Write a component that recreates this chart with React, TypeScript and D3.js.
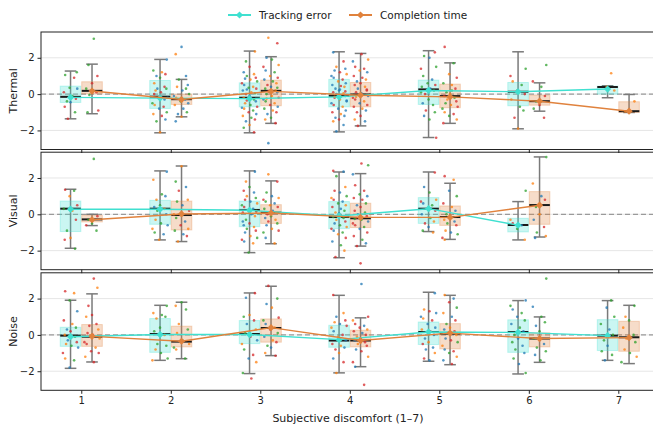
import React, { useEffect, useRef } from 'react';
import * as d3 from 'd3';

const levels = [1, 2, 3, 4, 5, 6, 7];
const panelNames = ['Thermal', 'Visual', 'Noise'];
const seriesNames = ['Tracking error', 'Completion time'];
const yTicks = [-2, 0, 2];

// box stats per discomfort level: [whiskerLo, q1, median, q3, whiskerHi, mean]
const thermalTracking = [
  [-1.36, -0.46, -0.15, 0.44, 1.27, -0.18],
  [-2.13, -0.79, -0.14, 0.75, 1.91, -0.22],
  [-2.13, -0.7, -0.2, 0.62, 2.37, -0.25],
  [-2.08, -0.7, -0.09, 0.81, 2.33, -0.15],
  [-2.39, -0.57, 0.26, 0.77, 2.39, 0.2],
  [-1.91, -0.64, 0.13, 0.64, 2.33, 0.13],
  [-0.2, 0.0, 0.39, 0.44, 0.46, 0.28],
];
const thermalCompletion = [
  [-1.08, 0.02, 0.18, 0.68, 1.65, 0.17],
  [-1.25, -0.57, -0.28, 0.0, 0.81, -0.3],
  [-1.61, -0.64, 0.18, 0.77, 2.06, 0.15],
  [-1.75, -0.7, -0.02, 0.64, 2.24, -0.06],
  [-1.61, -0.75, -0.11, 0.55, 1.72, -0.15],
  [-0.94, -0.61, -0.39, -0.06, 0.62, -0.39],
  [-1.01, -1.01, -0.94, -0.42, -0.02, -0.94],
];
const visualTracking = [
  [-1.87, -0.95, 0.31, 0.73, 1.38, 0.28],
  [-1.41, -0.55, 0.31, 0.77, 2.39, 0.28],
  [-2.11, -0.68, 0.24, 0.73, 2.39, 0.22],
  [-2.39, -0.79, -0.15, 0.7, 2.33, -0.09],
  [-0.95, -0.5, 0.31, 0.92, 2.33, 0.31],
  [-1.41, -0.97, -0.59, -0.22, 0.7, -0.6],
  null,
];
const visualCompletion = [
  [-0.62, -0.42, -0.28, -0.06, 0.0, -0.3],
  [-1.5, -0.86, -0.04, 0.73, 2.66, 0.02],
  [-1.62, -0.5, 0.09, 0.53, 1.84, 0.07],
  [-1.75, -0.73, -0.22, 0.61, 2.24, -0.17],
  [-1.38, -0.61, -0.15, 0.46, 1.71, -0.17],
  [-1.25, -0.55, 0.51, 1.25, 3.16, 0.5],
  null,
];
const noiseTracking = [
  [-1.84, -0.63, -0.04, 0.42, 1.91, -0.1],
  [-1.4, -0.96, 0.05, 0.9, 1.63, 0.02],
  [-2.13, -0.48, 0.05, 0.79, 2.31, 0.02],
  [-2.09, -0.68, -0.31, 0.53, 2.18, -0.26],
  [-1.45, -0.53, 0.16, 0.71, 2.35, 0.16],
  [-2.15, -0.96, 0.16, 0.83, 1.89, 0.14],
  [-1.4, -0.86, -0.04, 0.84, 1.89, -0.04],
];
const noiseCompletion = [
  [-1.49, -0.63, -0.1, 0.57, 2.26, -0.08],
  [-1.31, -0.66, -0.37, 0.48, 1.8, -0.35],
  [-1.14, -0.4, 0.38, 0.88, 2.68, 0.4],
  [-1.75, -0.66, -0.31, 0.26, 0.94, -0.31],
  [-1.64, -0.77, 0.07, 0.62, 2.18, 0.1],
  [-1.51, -0.66, -0.2, 0.11, 0.99, -0.2],
  [-1.58, -0.9, -0.13, 0.75, 1.63, -0.15],
];

// individual z-scores per level, plus the colour codes cycled over the dots
const thermalTrackingPts = [
  [1.05, 0.9, 0.35, 0.3, 0.1, -0.1, -0.25, -0.4, -0.45, -0.7, -1.0, -1.36, 1.2],
  [1.9, 1.3, 1.2, 1.1, 1.0, 0.9, 0.6, 0.4, 0.3, 0.3, 0.2, 0.1, -0.2, -0.5, -0.6, -0.7, -0.8, -1.0, -1.1, -1.2, -1.4, -1.5, -2.1, 0.0, -0.3],
  [2.35, 1.8, 1.5, 1.2, 1.1, 1.0, 0.9, 0.85, 0.8, 0.7, 0.6, 0.5, 0.4, 0.35, 0.3, 0.2, 0.1, 0.05, 0.0, -0.1, -0.2, -0.3, -0.35, -0.4, -0.5, -0.6, -0.7, -0.75, -0.8, -0.9, -1.0, -1.1, -1.2, -1.3, -1.4, -1.5, -1.7, -1.85, -2.1, 0.25],
  [2.3, 1.8, 1.5, 1.4, 1.3, 1.2, 1.1, 1.0, 0.9, 0.8, 0.7, 0.6, 0.5, 0.45, 0.4, 0.3, 0.2, 0.1, 0.05, 0.0, -0.1, -0.2, -0.3, -0.4, -0.5, -0.6, -0.7, -0.8, -0.9, -1.0, -1.1, -1.2, -1.3, -1.4, -1.5, -1.7, -2.05, 0.15, -0.15, 0.25, -0.35],
  [2.3, 2.1, 2.0, 1.5, 1.4, 1.0, 0.8, 0.6, 0.5, 0.4, 0.3, 0.2, 0.0, -0.3, -0.5, -0.6, -0.9, -1.0, -1.2, -1.4, -2.4, 0.1],
  [1.4, 1.0, 0.7, 0.5, 0.2, 0.0, -0.3, -0.7, -0.9, -1.3, -1.9],
  [1.15, 0.4, 0.2],
];
const thermalTrackingCols = ['grgbr', 'bgor', 'ogrb', 'brob', 'rgbg', 'grog', 'o'];
const thermalCompletionPts = [
  [3.05, 1.0, 1.6, 0.6, 0.3, 0.1, -0.05, -0.9, -1.0, 0.2],
  [2.6, 2.2, 1.0, 0.8, 0.5, 0.4, 0.2, 0.0, -0.1, -0.2, -0.3, -0.4, -0.5, -0.6, -0.8, -1.0, -1.1, -1.25, -1.5, 0.3],
  [3.1, 2.8, 2.0, 1.9, 1.6, 1.5, 1.3, 1.2, 1.0, 0.9, 0.8, 0.7, 0.6, 0.5, 0.4, 0.3, 0.2, 0.15, 0.1, 0.0, -0.1, -0.2, -0.3, -0.4, -0.5, -0.6, -0.7, -0.8, -0.9, -1.0, -1.1, -1.3, -1.4, -1.6, -2.7, 0.35, -0.25],
  [2.2, 1.9, 1.8, 1.5, 1.4, 1.3, 1.2, 1.0, 0.9, 0.8, 0.7, 0.6, 0.5, 0.4, 0.3, 0.2, 0.1, 0.0, -0.1, -0.2, -0.3, -0.4, -0.5, -0.6, -0.7, -0.8, -0.9, -1.0, -1.2, -1.4, -1.5, -1.75, 0.25, -0.15, 0.05],
  [2.6, 1.7, 1.1, 0.9, 0.6, 0.5, 0.3, 0.1, 0.0, -0.1, -0.2, -0.3, -0.4, -0.5, -0.6, -0.7, -0.8, -1.0, -1.1, -1.2, -1.4, -1.6, 0.2],
  [1.6, 0.7, 0.4, -0.1, -0.4, -0.6, -0.8, -1.3],
  [-0.4, -0.95],
];
const thermalCompletionCols = ['gr', 'bobg', 'orbg', 'robr', 'rgo', 'gr', 'o'];

const visualTrackingPts = [
  [1.35, 1.3, 1.0, 0.5, 0.3, 0.2, -0.3, -0.9, -1.3, -1.4, -1.9],
  [2.35, 1.9, 1.1, 1.0, 0.8, 0.5, 0.4, 0.3, 0.2, 0.0, -0.3, -0.5, -0.6, -0.8, -1.0, -1.1, -1.4],
  [2.35, 1.8, 1.5, 1.3, 1.2, 1.0, 0.9, 0.8, 0.7, 0.6, 0.5, 0.4, 0.3, 0.25, 0.2, 0.1, 0.0, -0.1, -0.3, -0.5, -0.6, -0.7, -0.8, -0.9, -1.0, -1.2, -1.3, -1.4, -1.5, -1.6, -2.1, 0.15, -0.4],
  [2.4, 2.35, 2.1, 1.5, 1.3, 1.2, 1.0, 0.9, 0.8, 0.7, 0.6, 0.5, 0.4, 0.3, 0.2, 0.1, 0.0, -0.1, -0.2, -0.3, -0.4, -0.5, -0.6, -0.7, -0.8, -0.9, -1.0, -1.1, -1.3, -1.5, -1.7, -2.0, -2.35, 0.05, -0.15],
  [2.3, 1.5, 1.2, 0.8, 0.7, 0.6, 0.5, 0.3, 0.2, 0.0, -0.2, -0.4, -0.5, -0.7, -0.9, -1.0],
  [1.3, -0.3, -0.5, -0.6, -0.8, -1.4],
  [],
];
const visualTrackingCols = ['rgo', 'bog', 'bogr', 'rbgo', 'rbgo', 'gorb', 'g'];
const visualCompletionPts = [
  [3.05, -0.1, -0.3, -0.5, -0.6, -0.9],
  [2.65, 1.8, 1.5, 1.3, 0.8, 0.7, 0.5, 0.2, 0.0, -0.2, -0.4, -0.6, -0.8, -0.9, -1.1, -1.2, -1.5],
  [2.2, 1.8, 1.2, 1.0, 0.9, 0.8, 0.7, 0.6, 0.5, 0.4, 0.3, 0.2, 0.1, 0.0, -0.1, -0.2, -0.3, -0.4, -0.5, -0.6, -0.8, -0.9, -1.0, -1.3, -1.6],
  [2.8, 2.7, 2.2, 1.6, 1.3, 1.1, 1.0, 0.9, 0.8, 0.6, 0.5, 0.4, 0.2, 0.1, 0.0, -0.1, -0.2, -0.3, -0.4, -0.5, -0.6, -0.7, -0.8, -1.0, -1.2, -1.4, -1.6, -1.75, -2.7, -0.25],
  [2.1, 1.9, 1.3, 1.0, 0.6, 0.4, 0.2, 0.0, -0.1, -0.3, -0.4, -0.5, -0.6, -0.9, -1.0, -1.1, -1.3, -1.4],
  [3.15, 1.7, 1.0, 0.8, 0.4, 0.0, -0.3, -0.7, -1.0, -1.2, -1.3],
  [],
];
const visualCompletionCols = ['grg', 'ogbr', 'orgb', 'rgbr', 'robg', 'gobr', 'g'];

const noiseTrackingPts = [
  [2.4, 2.3, 1.9, 1.3, 0.8, 0.6, 0.4, 0.3, 0.2, 0.0, -0.1, -0.3, -0.4, -0.5, -0.6, -0.7, -1.0, -1.3, -1.4, -1.8],
  [1.6, 1.2, 1.1, 1.0, 0.9, 0.4, 0.2, 0.0, -0.5, -0.6, -0.8, -1.0, -1.3, -1.4],
  [2.3, 2.05, 1.1, 1.0, 0.8, 0.6, 0.3, 0.1, -0.1, -0.3, -0.5, -0.8, -1.1, -1.3, -1.5, -2.1, -2.4],
  [2.2, 1.2, 1.0, 0.8, 0.7, 0.6, 0.5, 0.4, 0.2, 0.0, -0.1, -0.3, -0.5, -0.6, -0.7, -0.8, -1.0, -1.3, -1.5, -2.1],
  [2.3, 1.4, 1.3, 1.2, 1.0, 0.9, 0.8, 0.6, 0.4, 0.3, 0.2, 0.0, -0.2, -0.4, -0.5, -0.7, -0.8, -1.0, -1.3, -1.4],
  [1.9, 1.6, 1.4, 1.2, 1.0, 0.8, 0.6, 0.4, 0.2, 0.0, -0.2, -0.4, -0.6, -0.8, -1.0, -1.3, -1.6, -2.1],
  [1.9, 1.5, 1.0, 0.6, 0.3, 0.0, -0.3, -0.6, -0.9, -1.1, -1.4],
];
const noiseTrackingCols = ['rogb', 'gog', 'rbog', 'rob', 'borb', 'bg', 'gbg'];
const noiseCompletionPts = [
  [3.1, 2.6, 1.6, 1.1, 1.0, 0.6, 0.5, 0.3, 0.1, 0.0, -0.2, -0.4, -0.5, -0.7, -0.9, -1.0, -1.2, -1.5],
  [1.8, 1.6, 1.4, 0.6, 0.3, 0.1, -0.3, -0.5, -0.7, -0.8, -1.3],
  [2.7, 2.0, 1.7, 1.5, 0.95, 0.8, 0.6, 0.4, 0.3, 0.1, -0.1, -0.3, -0.4, -0.6, -0.7, -1.0, -1.15],
  [2.8, 1.0, 0.8, 0.6, 0.5, 0.4, 0.3, 0.2, 0.1, 0.0, -0.1, -0.2, -0.3, -0.4, -0.5, -0.6, -0.8, -0.9, -1.2, -1.5, -1.75, -2.75],
  [2.2, 2.0, 1.8, 1.5, 1.2, 1.0, 0.8, 0.6, 0.4, 0.3, 0.2, 0.1, 0.0, -0.2, -0.3, -0.4, -0.6, -0.8, -0.9, -1.0, -1.2, -1.4, -1.6],
  [3.1, 1.55, 1.0, 0.7, 0.5, 0.2, -0.2, -0.5, -0.7, -0.9, -1.1, -1.4],
  [1.6, 1.0, 0.8, 0.4, 0.0, -0.2, -0.4, -0.8, -1.0, -1.2, -1.5],
];
const noiseCompletionCols = ['ror', 'go', 'rgbo', 'bror', 'obrg', 'gbg', 'go'];

const dotColors = { b: '#1f77b4', o: '#ff7f0e', g: '#2ca02c', r: '#d62728' };
const seriesColors = ['#40E0D0', '#E0823D'];
const seriesOffset = [-0.12, 0.12];
const JITTER = [-0.06, 0.04, -0.01, 0.075, -0.075, 0.02, 0.06, -0.04, 0.0, -0.065, 0.05, -0.03, 0.07, -0.05, 0.01, 0.085, -0.085];

const panels = [
  { name: panelNames[0], stats: [thermalTracking, thermalCompletion], pts: [thermalTrackingPts, thermalCompletionPts], cols: [thermalTrackingCols, thermalCompletionCols] },
  { name: panelNames[1], stats: [visualTracking, visualCompletion], pts: [visualTrackingPts, visualCompletionPts], cols: [visualTrackingCols, visualCompletionCols] },
  { name: panelNames[2], stats: [noiseTracking, noiseCompletion], pts: [noiseTrackingPts, noiseCompletionPts], cols: [noiseTrackingCols, noiseCompletionCols] },
];

const App = () => {
  const svgRef = useRef(null);

  useEffect(() => {
    const font = 'DejaVu Sans, sans-serif';
    const svg = d3.select(svgRef.current);
    svg.selectAll('*').remove();

    const left = 41;
    const right = 658.6;
    const panelTop = [32, 152.2, 272.8];
    const ph = 117.5;
    const x = d3.scaleLinear().domain([0.55, 7.45]).range([left, right]);
    const diamond = d3.symbol().type(d3.symbolSquare).size(26);

    panels.forEach((p, pi) => {
      const top = panelTop[pi];
      const y = d3.scaleLinear().domain([-3.05, 3.42]).range([top + ph, top]);
      const g = svg.append('g');

      // grid
      g.selectAll('.grid')
        .data(yTicks)
        .enter()
        .append('line')
        .attr('x1', left)
        .attr('x2', right)
        .attr('y1', d => y(d))
        .attr('y2', d => y(d))
        .attr('stroke', '#e6e6e6')
        .attr('stroke-width', 1);

      // zero reference
      g.append('line')
        .attr('x1', left)
        .attr('x2', right)
        .attr('y1', y(0))
        .attr('y2', y(0))
        .attr('stroke', '#9a9a9a')
        .attr('stroke-width', 1.3)
        .attr('stroke-dasharray', '5,3');

      p.stats.forEach((stats, si) => {
        const col = seriesColors[si];
        const off = seriesOffset[si];
        const rows = levels
          .map((lv, i) => ({ lv, s: stats[i] }))
          .filter(d => d.s);

        // whiskers
        g.selectAll(null)
          .data(rows)
          .enter()
          .append('line')
          .attr('x1', d => x(d.lv + off))
          .attr('x2', d => x(d.lv + off))
          .attr('y1', d => y(d.s[0]))
          .attr('y2', d => y(d.s[4]))
          .attr('stroke', '#7a7a7a')
          .attr('stroke-width', 1.5);
        [0, 4].forEach(k => {
          g.selectAll(null)
            .data(rows)
            .enter()
            .append('line')
            .attr('x1', d => x(d.lv + off - 0.065))
            .attr('x2', d => x(d.lv + off + 0.065))
            .attr('y1', d => y(d.s[k]))
            .attr('y2', d => y(d.s[k]))
            .attr('stroke', '#7a7a7a')
            .attr('stroke-width', 1.5);
        });

        // boxes
        g.selectAll(null)
          .data(rows)
          .enter()
          .append('rect')
          .attr('x', d => x(d.lv + off - 0.115))
          .attr('width', x(0.23) - x(0))
          .attr('y', d => y(d.s[3]))
          .attr('height', d => y(d.s[1]) - y(d.s[3]))
          .attr('fill', col)
          .attr('fill-opacity', 0.28)
          .attr('stroke', col)
          .attr('stroke-opacity', 0.3)
          .attr('stroke-width', 1);

        // medians
        g.selectAll(null)
          .data(rows)
          .enter()
          .append('line')
          .attr('x1', d => x(d.lv + off - 0.115))
          .attr('x2', d => x(d.lv + off + 0.115))
          .attr('y1', d => y(d.s[2]))
          .attr('y2', d => y(d.s[2]))
          .attr('stroke', '#1a1a1a')
          .attr('stroke-width', 2);

        // dots
        levels.forEach((lv, i) => {
          const vals = p.pts[si][i] || [];
          const codes = p.cols[si][i];
          g.selectAll(null)
            .data(vals)
            .enter()
            .append('circle')
            .attr('cx', (d, j) => x(lv + off + JITTER[(j + i * 3 + si * 5) % JITTER.length]))
            .attr('cy', d => y(d))
            .attr('r', 1.3)
            .attr('fill', (d, j) => dotColors[codes[j % codes.length]])
            .attr('fill-opacity', 0.75);
        });
      });

      // mean lines and markers on top
      p.stats.forEach((stats, si) => {
        const col = seriesColors[si];
        const off = seriesOffset[si];
        const rows = levels
          .map((lv, i) => ({ lv, s: stats[i] }))
          .filter(d => d.s);
        const line = d3
          .line()
          .x(d => x(d.lv + off))
          .y(d => y(d.s[5]));
        g.append('path')
          .attr('d', line(rows))
          .attr('fill', 'none')
          .attr('stroke', col)
          .attr('stroke-width', 1.4);
        g.selectAll(null)
          .data(rows)
          .enter()
          .append('path')
          .attr('d', diamond)
          .attr('transform', d => `translate(${x(d.lv + off)},${y(d.s[5])}) rotate(45)`)
          .attr('fill', col);
      });

      // frame
      g.append('rect')
        .attr('x', left)
        .attr('y', top)
        .attr('width', right - left)
        .attr('height', ph)
        .attr('fill', 'none')
        .attr('stroke', '#222')
        .attr('stroke-width', 1);

      // y axis
      const ya = g
        .append('g')
        .attr('transform', `translate(${left},0)`)
        .call(d3.axisLeft(y).tickValues(yTicks).tickSize(3.5).tickFormat(d => (d < 0 ? `\u2212${Math.abs(d)}` : `${d}`)));
      ya.select('.domain').remove();
      ya.selectAll('line').attr('stroke', '#222');
      ya.selectAll('text').style('font-family', font).style('font-size', '10px').attr('fill', '#222');

      // x ticks on every panel, labels only on the bottom one
      const xa = g
        .append('g')
        .attr('transform', `translate(0,${top + ph})`)
        .call(d3.axisBottom(x).tickValues(levels).tickSize(3.5).tickFormat(d => (pi === 2 ? `${d}` : '')));
      xa.select('.domain').remove();
      xa.selectAll('line').attr('stroke', '#222');
      xa.selectAll('text').style('font-family', font).style('font-size', '10px').attr('fill', '#222');

      svg
        .append('text')
        .attr('transform', `translate(13,${top + ph / 2}) rotate(-90)`)
        .attr('text-anchor', 'middle')
        .attr('dominant-baseline', 'central')
        .style('font-family', font)
        .style('font-size', '11px')
        .attr('fill', '#222')
        .text(p.name);
    });

    svg
      .append('text')
      .attr('x', 348)
      .attr('y', 422)
      .attr('text-anchor', 'middle')
      .style('font-family', font)
      .style('font-size', '11px')
      .attr('fill', '#222')
      .text('Subjective discomfort (1\u20137)');

    // legend
    const legendX = [228, 349];
    const legend = svg
      .selectAll('.legend')
      .data(seriesNames)
      .enter()
      .append('g')
      .attr('transform', (_, i) => `translate(${legendX[i]},15)`);
    legend
      .append('line')
      .attr('x1', 0)
      .attr('x2', 23)
      .attr('stroke', (_, i) => seriesColors[i])
      .attr('stroke-width', 2);
    legend
      .append('path')
      .attr('d', diamond)
      .attr('transform', 'translate(11.5,0) rotate(45)')
      .attr('fill', (_, i) => seriesColors[i]);
    legend
      .append('text')
      .attr('x', 31)
      .attr('dominant-baseline', 'central')
      .style('font-family', font)
      .style('font-size', '10.5px')
      .attr('fill', '#222')
      .text(d => d);
  }, []);

  return (
    <svg
      ref={svgRef}
      width={653}
      height={425}
      style={{ position: 'absolute', left: 0, top: 0, background: '#fff' }}
    ></svg>
  );
};

export default App;
